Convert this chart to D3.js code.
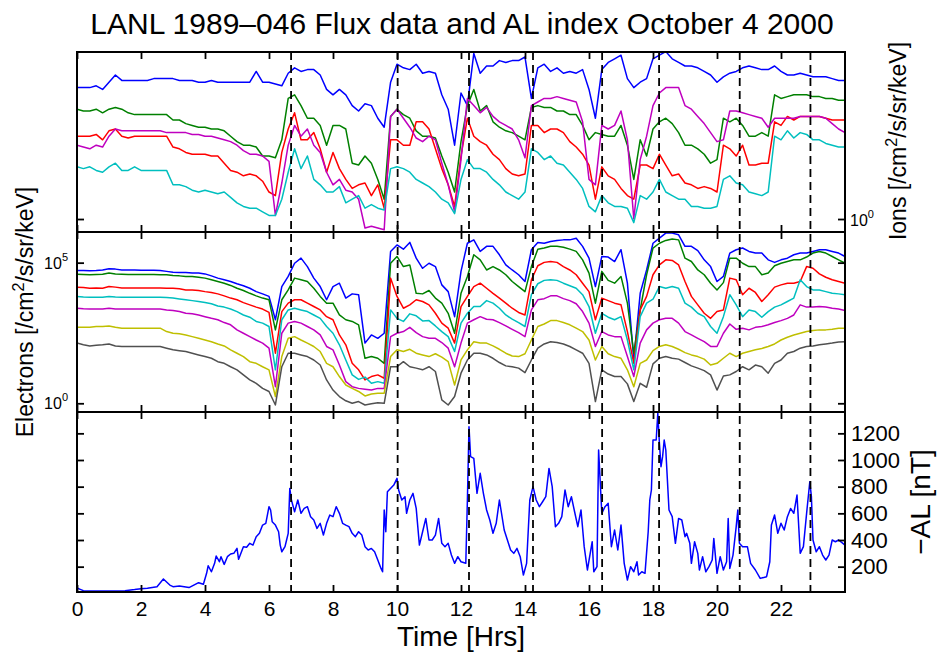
<!DOCTYPE html>
<html>
<head>
<meta charset="utf-8">
<script src="https://cdn.jsdelivr.net/npm/d3@7"></script>
<style>
  body { margin: 0; background: #fff; }
  svg { display: block; }
</style>
</head>
<body>
<svg id="chart" width="937" height="652"></svg>
<script>
// ---- data (flux series: log10 values every 0.2 h from 0 to 24) ----
const STEP = 0.2;

const ionBlueLog = [
  0.73,0.73,0.73,0.74,0.72, 0.76,0.80,0.77,0.77,0.77,
  0.77,0.77,0.78,0.78,0.78, 0.78,0.77,0.77,0.77,0.76,
  0.76,0.77,0.76,0.76,0.76, 0.76,0.76,0.76,0.82,0.76,
  0.76,0.75,0.74,0.81,0.84, 0.82,0.83,0.83,0.80,0.72,
  0.69,0.72,0.69,0.63,0.60, 0.64,0.63,0.56,0.51,0.76,
  0.86,0.84,0.83,0.86,0.81, 0.82,0.81,0.69,0.61,0.41,
  0.70,0.63,0.92,0.81,0.85, 0.85,0.88,0.87,0.88,0.88,
  0.90,0.67,0.84,0.86,0.82, 0.84,0.81,0.82,0.81,0.83,
  0.72,0.56,0.83,0.87,0.89, 0.91,0.78,0.73,0.76,0.78,
  0.89,0.91,0.93,0.89,0.87, 0.85,0.85,0.84,0.82,0.80,
  0.76,0.79,0.81,0.82,0.84, 0.85,0.84,0.83,0.83,0.85,
  0.82,0.80,0.80,0.81,0.80, 0.79,0.79,0.79,0.78,0.77,
  0.77
];
const ionGreenLog = [
  0.61,0.60,0.60,0.61,0.59, 0.61,0.62,0.61,0.59,0.58,
  0.58,0.58,0.58,0.58,0.58, 0.55,0.55,0.53,0.52,0.51,
  0.51,0.50,0.50,0.49,0.46, 0.43,0.41,0.41,0.40,0.35,
  0.35,0.34,0.44,0.67,0.69, 0.63,0.56,0.56,0.52,0.41,
  0.52,0.52,0.50,0.31,0.30, 0.35,0.31,0.22,0.11,0.57,
  0.61,0.58,0.56,0.49,0.46, 0.46,0.45,0.35,0.26,0.15,
  0.43,0.63,0.72,0.60,0.63, 0.54,0.51,0.49,0.48,0.46,
  0.44,0.62,0.63,0.62,0.62, 0.60,0.60,0.58,0.58,0.52,
  0.44,0.48,0.47,0.46,0.46, 0.52,0.41,0.22,0.44,0.35,
  0.50,0.54,0.56,0.53,0.48, 0.41,0.41,0.39,0.36,0.31,
  0.33,0.56,0.54,0.56,0.52, 0.46,0.46,0.48,0.46,0.69,
  0.67,0.68,0.69,0.69,0.69, 0.68,0.68,0.67,0.67,0.66,
  0.66
];
const ionRedLog = [
  0.46,0.46,0.46,0.47,0.44, 0.49,0.50,0.46,0.45,0.46,
  0.46,0.46,0.46,0.46,0.46, 0.40,0.39,0.37,0.36,0.36,
  0.36,0.35,0.35,0.31,0.27, 0.26,0.24,0.25,0.24,0.21,
  0.15,0.13,0.37,0.50,0.59, 0.44,0.44,0.48,0.39,0.26,
  0.37,0.28,0.22,0.17,0.19, 0.20,0.13,0.19,0.06,0.44,
  0.44,0.41,0.41,0.54,0.54, 0.50,0.39,0.28,0.19,0.07,
  0.35,0.56,0.46,0.43,0.41, 0.36,0.33,0.28,0.25,0.24,
  0.25,0.52,0.52,0.48,0.50, 0.50,0.48,0.43,0.40,0.36,
  0.30,0.11,0.29,0.24,0.22, 0.17,0.13,0.11,0.30,0.30,
  0.28,0.36,0.30,0.24,0.25, 0.20,0.19,0.17,0.18,0.17,
  0.15,0.41,0.39,0.35,0.41, 0.30,0.30,0.31,0.31,0.54,
  0.52,0.57,0.55,0.57,0.57, 0.57,0.57,0.56,0.55,0.55,
  0.55
];
const ionMagentaLog = [
  0.41,0.40,0.39,0.41,0.40, 0.46,0.50,0.49,0.49,0.49,
  0.49,0.49,0.49,0.49,0.48, 0.48,0.48,0.48,0.47,0.47,
  0.46,0.46,0.45,0.44,0.43, 0.41,0.38,0.36,0.36,0.35,
  0.32,0.02,0.20,0.41,0.52, 0.46,0.50,0.41,0.37,0.26,
  0.19,0.22,0.16,0.15,0.11, -0.05,-0.04,-0.05,-0.06,0.57,
  0.61,0.56,0.51,0.45,0.43, 0.46,0.44,0.31,0.19,0.04,
  0.33,0.67,0.63,0.59,0.62, 0.57,0.54,0.52,0.50,0.44,
  0.34,0.63,0.65,0.67,0.67, 0.68,0.67,0.66,0.65,0.54,
  0.22,0.19,0.52,0.50,0.52, 0.60,0.44,0.00,0.33,0.46,
  0.63,0.70,0.73,0.73,0.73, 0.63,0.61,0.57,0.53,0.48,
  0.43,0.44,0.60,0.60,0.59, 0.58,0.57,0.56,0.51,0.56,
  0.56,0.56,0.56,0.57,0.57, 0.57,0.57,0.56,0.53,0.50,
  0.48
];
const ionCyanLog = [
  0.29,0.28,0.29,0.27,0.26, 0.29,0.31,0.27,0.27,0.29,
  0.27,0.27,0.27,0.27,0.27, 0.19,0.19,0.18,0.16,0.15,
  0.16,0.15,0.14,0.15,0.12, 0.09,0.07,0.06,0.06,0.04,
  0.02,0.02,0.11,0.26,0.39, 0.28,0.35,0.22,0.19,0.15,
  0.15,0.18,0.09,0.11,0.13, 0.06,0.08,0.06,0.05,0.28,
  0.29,0.28,0.26,0.22,0.20, 0.18,0.15,0.11,0.09,0.03,
  0.22,0.33,0.28,0.28,0.26, 0.22,0.19,0.15,0.13,0.11,
  0.15,0.39,0.37,0.33,0.35, 0.31,0.30,0.26,0.22,0.17,
  0.07,0.04,0.13,0.09,0.07, 0.07,0.06,-0.02,0.13,0.11,
  0.15,0.22,0.15,0.13,0.11, 0.11,0.07,0.07,0.06,0.06,
  0.07,0.22,0.24,0.20,0.19, 0.15,0.14,0.13,0.15,0.46,
  0.44,0.49,0.45,0.48,0.47, 0.44,0.44,0.42,0.41,0.40,
  0.40
];

const eBlueLog = [
  4.72,4.72,4.71,4.72,4.74, 4.78,4.77,4.74,4.74,4.74,
  4.73,4.73,4.73,4.72,4.69, 4.66,4.65,4.65,4.63,4.63,
  4.60,4.53,4.45,4.39,4.33, 4.25,4.18,4.09,3.97,3.89,
  3.80,2.97,4.15,4.51,4.98, 5.16,4.86,4.45,4.15,3.68,
  4.15,4.27,3.74,3.89,3.86, 2.14,2.43,2.31,2.49,5.40,
  5.63,5.48,5.72,5.16,4.80, 4.98,4.86,4.21,3.97,3.08,
  4.69,5.69,5.81,5.40,5.58, 5.58,5.28,4.92,4.74,4.57,
  4.33,5.46,5.72,5.69,5.75, 5.79,5.81,5.81,5.87,5.58,
  5.16,4.15,5.22,5.20,5.04, 5.46,4.27,1.54,3.91,4.74,
  5.69,5.87,6.05,6.05,5.99, 5.58,5.58,5.43,5.10,4.86,
  4.33,4.51,5.34,5.46,5.52, 5.40,5.34,5.34,5.10,5.01,
  5.10,5.16,5.28,5.34,5.34, 5.40,5.46,5.46,5.40,5.34,
  5.22
];
const eGreenLog = [
  4.59,4.58,4.57,4.58,4.59, 4.63,4.60,4.59,4.58,4.58,
  4.58,4.58,4.58,4.57,4.57, 4.54,4.53,4.51,4.51,4.48,
  4.45,4.39,4.33,4.27,4.19, 4.09,4.01,3.91,3.82,3.74,
  3.68,2.61,3.68,4.03,4.45, 4.39,4.33,4.09,3.80,3.56,
  3.56,3.14,2.97,2.91,2.79, 1.60,1.66,1.60,1.42,4.98,
  5.22,4.86,4.92,3.91,3.89, 4.01,3.74,3.56,3.20,2.49,
  3.91,4.51,5.28,5.10,4.74, 4.86,4.74,4.57,4.33,4.15,
  3.97,4.86,5.48,5.52,5.58, 5.58,5.55,5.48,5.40,5.10,
  4.63,3.56,4.69,4.37,4.27, 4.51,3.56,1.78,3.32,4.57,
  5.52,5.69,5.79,5.84,5.81, 5.16,5.04,4.74,4.57,4.27,
  4.03,4.29,5.16,5.16,4.98, 4.86,4.86,4.57,4.63,4.89,
  4.98,5.04,5.10,5.10,5.20, 5.34,5.40,5.34,5.22,5.10,
  4.98
];
const eRedLog = [
  4.13,4.12,4.09,4.10,4.09, 4.15,4.13,4.10,4.10,4.10,
  4.10,4.10,4.10,4.10,4.09, 4.09,4.07,4.03,4.03,4.01,
  3.97,3.94,3.89,3.82,3.74, 3.68,3.58,3.50,3.42,3.35,
  3.23,1.78,3.26,3.56,3.68, 3.68,3.56,3.44,3.32,3.08,
  2.97,2.43,2.08,1.42,1.19, 0.83,0.95,1.01,0.89,4.45,
  3.80,3.38,3.50,3.68,3.62, 3.50,3.20,2.85,2.67,2.14,
  3.44,3.80,4.15,4.27,4.09, 3.91,3.74,3.56,3.38,3.23,
  3.14,4.39,4.89,5.01,5.04, 5.01,4.86,4.74,4.57,4.27,
  3.97,2.97,3.74,3.65,3.56, 3.50,2.55,1.42,3.32,3.80,
  4.57,4.92,5.10,5.08,4.92, 4.33,3.80,3.50,3.20,3.02,
  3.26,3.32,4.45,4.39,3.86, 4.09,3.94,3.62,3.86,4.13,
  4.21,4.27,4.27,4.33,4.86, 4.80,4.60,4.48,4.39,4.33,
  4.27
];
const eCyanLog = [
  3.80,3.78,3.77,3.77,3.77, 3.80,3.78,3.77,3.77,3.77,
  3.77,3.77,3.77,3.77,3.76, 3.74,3.71,3.68,3.65,3.62,
  3.58,3.54,3.46,3.42,3.35, 3.26,3.14,3.06,2.91,2.85,
  2.73,1.19,2.97,3.32,3.38, 3.32,3.26,3.14,3.02,2.73,
  2.49,2.08,1.54,1.01,0.85, 0.93,0.71,0.77,0.71,3.32,
  3.02,2.91,3.18,3.11,2.93, 2.94,2.75,2.55,2.37,1.84,
  2.85,3.20,3.44,3.44,3.65, 3.56,3.38,3.14,2.99,2.87,
  2.73,3.86,4.25,4.37,4.39, 4.37,4.27,4.18,4.09,3.86,
  3.44,2.49,3.20,3.06,2.97, 3.08,2.25,1.19,3.08,3.56,
  3.70,4.15,4.09,4.15,4.09, 3.56,3.42,3.20,3.08,2.73,
  2.49,3.08,3.86,3.50,3.08, 3.32,3.26,3.06,3.26,3.42,
  3.50,3.62,3.74,4.39,4.15, 4.03,4.03,3.97,3.91,3.89,
  3.86
];
const eMagentaLog = [
  3.38,3.36,3.35,3.35,3.35, 3.38,3.35,3.35,3.35,3.35,
  3.35,3.35,3.35,3.35,3.32, 3.30,3.26,3.20,3.18,3.14,
  3.08,3.02,2.97,2.87,2.79, 2.61,2.49,2.37,2.25,2.14,
  1.96,0.59,2.49,2.85,2.91, 2.85,2.73,2.61,2.43,2.02,
  1.90,1.36,0.77,0.59,0.53, 0.50,0.47,0.53,0.53,2.37,
  2.49,2.55,2.70,2.51,2.37, 2.31,2.31,2.16,1.96,1.30,
  2.14,2.85,2.97,3.08,2.99, 2.97,2.87,2.75,2.63,2.51,
  2.37,3.32,3.68,3.72,3.82, 3.82,3.72,3.65,3.54,3.26,
  2.85,2.02,2.55,2.43,2.37, 2.37,1.66,0.95,2.14,2.61,
  2.85,2.97,3.02,3.02,2.85, 2.55,2.43,2.31,2.19,2.02,
  2.02,2.49,2.82,2.63,2.67, 2.61,2.70,2.73,2.79,2.87,
  2.94,3.02,3.14,3.50,3.42, 3.42,3.44,3.42,3.38,3.35,
  3.30
];
const eYellowLog = [
  2.70,2.70,2.70,2.73,2.73, 2.75,2.70,2.67,2.67,2.67,
  2.67,2.67,2.67,2.67,2.55, 2.49,2.47,2.43,2.37,2.31,
  2.25,2.19,2.11,2.04,1.90, 1.78,1.66,1.48,1.42,1.30,
  1.19,0.24,1.66,2.31,2.37, 2.25,2.14,2.02,1.84,1.42,
  1.30,0.95,0.65,0.53,0.42, 0.26,0.33,0.36,0.36,1.66,
  1.90,1.84,1.92,1.78,1.72, 1.66,1.76,1.64,1.48,0.65,
  1.54,1.90,2.19,2.14,2.14, 2.04,1.92,1.78,1.68,1.66,
  1.76,2.25,2.73,2.82,2.94, 2.94,2.87,2.79,2.67,2.55,
  2.25,1.54,2.02,1.76,1.66, 1.60,1.19,0.59,1.42,1.54,
  1.87,2.02,2.08,2.02,1.92, 1.80,1.72,1.66,1.57,1.36,
  1.42,1.60,1.78,1.66,1.78, 1.84,1.90,1.95,2.02,2.11,
  2.25,2.35,2.43,2.49,2.55, 2.59,2.61,2.61,2.63,2.67,
  2.67
];
const eGrayLog = [
  2.14,2.08,2.04,2.06,2.08, 2.11,2.04,2.02,2.02,2.02,
  2.02,2.02,2.02,2.02,1.96, 1.90,1.87,1.84,1.78,1.72,
  1.66,1.60,1.48,1.42,1.30, 1.19,1.01,0.83,0.71,0.53,
  0.42,-0.06,1.30,1.78,1.78, 1.72,1.66,1.54,1.36,0.83,
  0.47,0.24,0.09,0.00,0.06, -0.06,-0.02,0.02,0.00,1.30,
  1.30,1.48,1.30,1.25,1.19, 1.30,1.13,0.12,-0.06,0.24,
  1.07,1.54,1.78,1.78,1.72, 1.60,1.45,1.33,1.30,1.25,
  1.09,1.54,1.96,2.11,2.19, 2.16,2.11,2.02,1.90,1.78,
  1.42,0.06,1.19,1.04,0.95, 0.95,0.69,0.06,0.71,0.57,
  1.40,1.60,1.66,1.60,1.57, 1.45,1.33,1.25,1.16,1.01,
  0.47,0.97,1.01,1.13,1.30, 1.19,1.36,1.30,1.07,1.42,
  1.54,1.78,1.84,1.96,2.02, 2.04,2.08,2.11,2.14,2.18,
  2.19
];

// AL index [hour, nT]
const alSamples = [
  [0.0,40],[0.1,30],[0.2,20],[0.5,18],[1.0,18],[1.5,20],[1.8,28],[2.0,35],[2.2,38],[2.5,50],
  [2.7,108],[2.9,62],[3.0,50],[3.2,55],[3.5,43],[3.8,80],[3.95,68],[4.05,150],[4.1,207],[4.2,162],
  [4.3,225],[4.35,280],[4.45,237],[4.5,275],[4.6,217],[4.7,275],[4.8,295],[4.9,300],[5.0,337],[5.05,255],
  [5.2,350],[5.3,345],[5.4,375],[5.5,362],[5.6,425],[5.7,450],[5.8,512],[5.9,525],[6.0,650],[6.05,625],
  [6.1,537],[6.2,512],[6.3,462],[6.35,362],[6.4,312],[6.5,350],[6.55,400],[6.6,450],[6.65,787],[6.7,700],
  [6.8,612],[6.9,700],[7.0,600],[7.1,637],[7.2,650],[7.3,575],[7.4,550],[7.5,487],[7.6,525],[7.7,437],
  [7.8,525],[7.9,587],[8.0,575],[8.1,650],[8.2,600],[8.3,525],[8.4,512],[8.5,500],[8.6,450],[8.7,425],
  [8.8,462],[8.9,437],[9.0,350],[9.1,325],[9.2,337],[9.3,312],[9.4,250],[9.5,187],[9.55,162],[9.6,625],
  [9.65,462],[9.7,762],[9.9,812],[10.0,862],[10.05,775],[10.15,700],[10.25,725],[10.3,600],[10.4,700],[10.5,750],
  [10.6,637],[10.7,362],[10.8,462],[10.9,562],[11.0,400],[11.1,400],[11.2,437],[11.3,562],[11.4,375],[11.5,350],
  [11.6,375],[11.7,287],[11.8,225],[11.9,275],[12.0,237],[12.15,225],[12.2,700],[12.25,1250],[12.3,1025],[12.4,1012],
  [12.5,750],[12.6,900],[12.7,750],[12.8,625],[12.9,550],[13.0,450],[13.1,525],[13.2,700],[13.35,475],[13.45,400],
  [13.55,325],[13.65,300],[13.75,337],[13.85,275],[13.95,137],[14.05,225],[14.15,700],[14.25,800],[14.35,700],[14.45,650],
  [14.55,687],[14.65,725],[14.75,937],[14.85,800],[14.95,500],[15.05,525],[15.15,575],[15.25,775],[15.35,650],[15.45,725],
  [15.55,612],[15.65,500],[15.75,625],[15.85,350],[15.95,175],[16.1,387],[16.15,162],[16.25,200],[16.3,1075],[16.4,600],
  [16.5,650],[16.6,675],[16.7,350],[16.8,475],[16.9,325],[17.0,512],[17.1,225],[17.2,100],[17.3,200],[17.4,162],
  [17.5,237],[17.55,137],[17.65,162],[17.75,150],[17.85,462],[17.9,700],[17.95,775],[18.0,1150],[18.1,1150],[18.15,1350],
  [18.2,1125],[18.25,950],[18.3,1025],[18.35,1150],[18.4,1075],[18.5,625],[18.6,575],[18.7,375],[18.8,562],[18.9,550],
  [19.0,425],[19.05,450],[19.15,375],[19.2,225],[19.3,387],[19.4,300],[19.45,175],[19.55,275],[19.65,162],[19.75,200],
  [19.85,250],[19.9,412],[20.0,150],[20.1,275],[20.2,175],[20.3,237],[20.35,562],[20.4,187],[20.5,287],[20.6,500],
  [20.65,625],[20.7,375],[20.8,350],[20.95,350],[21.05,225],[21.2,175],[21.35,112],[21.55,125],[21.65,237],[21.7,512],
  [21.8,587],[21.9,450],[22.0,525],[22.1,475],[22.2,575],[22.3,637],[22.4,600],[22.5,737],[22.6,300],[22.7,350],
  [22.8,600],[22.9,837],[22.95,725],[23.0,400],[23.1,312],[23.2,350],[23.3,287],[23.4,250],[23.5,287],[23.6,400],
  [23.7,387],[23.8,400],[24.0,362]
];

const xTicks = [0, 2, 4, 6, 8, 10, 12, 14, 16, 18, 20, 22];
const alTicks = [200, 400, 600, 800, 1000, 1200];
const ionTicks = [1];
const eleTicks = [1, 1e5];
const eventHours = [6.69, 10.02, 12.25, 14.25, 16.41, 18.19, 20.71, 22.92];

const ionSeries = [
  { values: ionBlueLog, color: "#0000ff" },
  { values: ionGreenLog, color: "#008000" },
  { values: ionRedLog, color: "#ff0000" },
  { values: ionMagentaLog, color: "#bf00bf" },
  { values: ionCyanLog, color: "#00bfbf" }
];
const eleSeries = [
  { values: eBlueLog, color: "#0000ff" },
  { values: eGreenLog, color: "#008000" },
  { values: eRedLog, color: "#ff0000" },
  { values: eCyanLog, color: "#00bfbf" },
  { values: eMagentaLog, color: "#bf00bf" },
  { values: eYellowLog, color: "#bfbf00" },
  { values: eGrayLog, color: "#505050" }
];

// ---- layout ----
const FONT = "'Liberation Sans', Arial, Helvetica, sans-serif";
const X0 = 77, X1 = 845;
const panels = [
  { top: 52, bottom: 232 },
  { top: 232, bottom: 412 },
  { top: 412, bottom: 592 }
];

const svg = d3.select("#chart");

const x = d3.scaleLinear().domain([0, 24]).range([X0, X1]);
const yIon = d3.scaleLog().domain([0.847, 8.47]).range([232, 52]);
const yEle = d3.scaleLog().domain([0.49, 1.23e6]).range([412, 232]);
const yAL = d3.scaleLinear().domain([10, 1360]).range([592, 412]);

const defs = svg.append("defs");
panels.forEach((p, i) => {
  defs.append("clipPath").attr("id", "clip" + i)
    .append("rect")
    .attr("x", X0).attr("y", p.top)
    .attr("width", X1 - X0).attr("height", p.bottom - p.top);
});

function drawFlux(series, y, clipId) {
  const g = svg.append("g").attr("clip-path", `url(#${clipId})`);
  const line = d3.line()
    .x((d, i) => x(i * STEP))
    .y(d => y(Math.pow(10, d)));
  series.forEach(s => {
    g.append("path")
      .datum(s.values)
      .attr("d", line)
      .attr("fill", "none")
      .attr("stroke", s.color)
      .attr("stroke-width", 1.5)
      .attr("stroke-linejoin", "round");
  });
}

drawFlux(ionSeries, yIon, "clip0");
drawFlux(eleSeries, yEle, "clip1");

// AL
svg.append("g").attr("clip-path", "url(#clip2)")
  .append("path")
  .datum(alSamples)
  .attr("d", d3.line().x(d => x(d[0])).y(d => yAL(d[1])))
  .attr("fill", "none")
  .attr("stroke", "#0000ff")
  .attr("stroke-width", 1.5)
  .attr("stroke-linejoin", "round");

// event dashed lines
svg.append("g")
  .selectAll("line")
  .data(eventHours)
  .enter().append("line")
  .attr("x1", d => x(d)).attr("x2", d => x(d))
  .attr("y1", panels[0].top).attr("y2", panels[2].bottom)
  .attr("stroke", "#000")
  .attr("stroke-width", 1.8)
  .attr("stroke-dasharray", "8,5");

// ---- axes / frames ----
function cleanAxis(g) {
  g.select(".domain").remove();
  g.selectAll(".tick line").attr("stroke", "#000").attr("stroke-width", 1.8);
}

panels.forEach(p => {
  svg.append("g").attr("transform", `translate(0,${p.top})`)
    .call(d3.axisBottom(x).tickValues(xTicks).tickSize(7).tickFormat(""))
    .call(cleanAxis);
  svg.append("g").attr("transform", `translate(0,${p.bottom})`)
    .call(d3.axisTop(x).tickValues(xTicks).tickSize(7).tickFormat(""))
    .call(cleanAxis);
});

function yTicks(scale, values) {
  svg.append("g").attr("transform", `translate(${X0},0)`)
    .call(d3.axisRight(scale).tickValues(values).tickSize(7).tickFormat(""))
    .call(cleanAxis);
  svg.append("g").attr("transform", `translate(${X1},0)`)
    .call(d3.axisLeft(scale).tickValues(values).tickSize(7).tickFormat(""))
    .call(cleanAxis);
}
yTicks(yIon, ionTicks);
yTicks(yEle, eleTicks);
yTicks(yAL, alTicks);

panels.forEach(p => {
  svg.append("rect")
    .attr("x", X0).attr("y", p.top)
    .attr("width", X1 - X0).attr("height", p.bottom - p.top)
    .attr("fill", "none")
    .attr("stroke", "#000")
    .attr("stroke-width", 2);
});

// x tick labels
svg.append("g").attr("transform", `translate(0,${panels[2].bottom})`)
  .call(d3.axisBottom(x).tickValues(xTicks).tickSize(0).tickPadding(9).tickFormat(d3.format("d")))
  .call(g => g.select(".domain").remove())
  .call(g => g.selectAll("text").attr("font-family", FONT).attr("font-size", 21).attr("fill", "#000"));

// AL tick labels
svg.append("g").attr("transform", `translate(${X1},0)`)
  .call(d3.axisRight(yAL).tickValues(alTicks).tickSize(0).tickPadding(6).tickFormat(d3.format("d")))
  .call(g => g.select(".domain").remove())
  .call(g => g.selectAll("text").attr("font-family", FONT).attr("font-size", 22).attr("fill", "#000"));

// power-of-ten labels
function powerLabel(xPos, yPos, exp, anchor) {
  const t = svg.append("text")
    .attr("x", xPos).attr("y", yPos)
    .attr("font-family", FONT)
    .attr("font-size", 16)
    .attr("text-anchor", anchor)
    .attr("fill", "#000");
  t.append("tspan").text("10");
  t.append("tspan").attr("font-size", 11).attr("dy", -8).text(exp);
}
ionTicks.forEach(v => powerLabel(X1 + 5, yIon(v) + 7, String(Math.round(Math.log10(v))), "start"));
eleTicks.forEach(v => powerLabel(X0 - 9, yEle(v) + 6, String(Math.round(Math.log10(v))), "end"));

// ---- titles ----
svg.append("text")
  .attr("x", 462).attr("y", 34)
  .attr("text-anchor", "middle")
  .attr("font-family", FONT)
  .attr("font-size", 30)
  .attr("fill", "#000")
  .text("LANL 1989\u2013046 Flux data and AL index October 4 2000");

svg.append("text")
  .attr("x", 461).attr("y", 646)
  .attr("text-anchor", "middle")
  .attr("font-family", FONT)
  .attr("font-size", 28)
  .attr("fill", "#000")
  .text("Time [Hrs]");

function unitLabel(cx, cy, prefix, size) {
  const t = svg.append("text")
    .attr("transform", `translate(${cx},${cy}) rotate(-90)`)
    .attr("text-anchor", "middle")
    .attr("font-family", FONT)
    .attr("font-size", size)
    .attr("fill", "#000");
  t.append("tspan").text(prefix + " [/cm");
  t.append("tspan").attr("font-size", size * 0.7).attr("dy", -size * 0.4).text("2");
  t.append("tspan").attr("dy", size * 0.4).text("/s/sr/keV]");
}
unitLabel(906, 141, "Ions", 23);
unitLabel(33, 312, "Electrons", 23);

svg.append("text")
  .attr("transform", "translate(930,502) rotate(-90)")
  .attr("text-anchor", "middle")
  .attr("font-family", FONT)
  .attr("font-size", 28)
  .attr("fill", "#000")
  .text("\u2212AL [nT]");
</script>
</body>
</html>
